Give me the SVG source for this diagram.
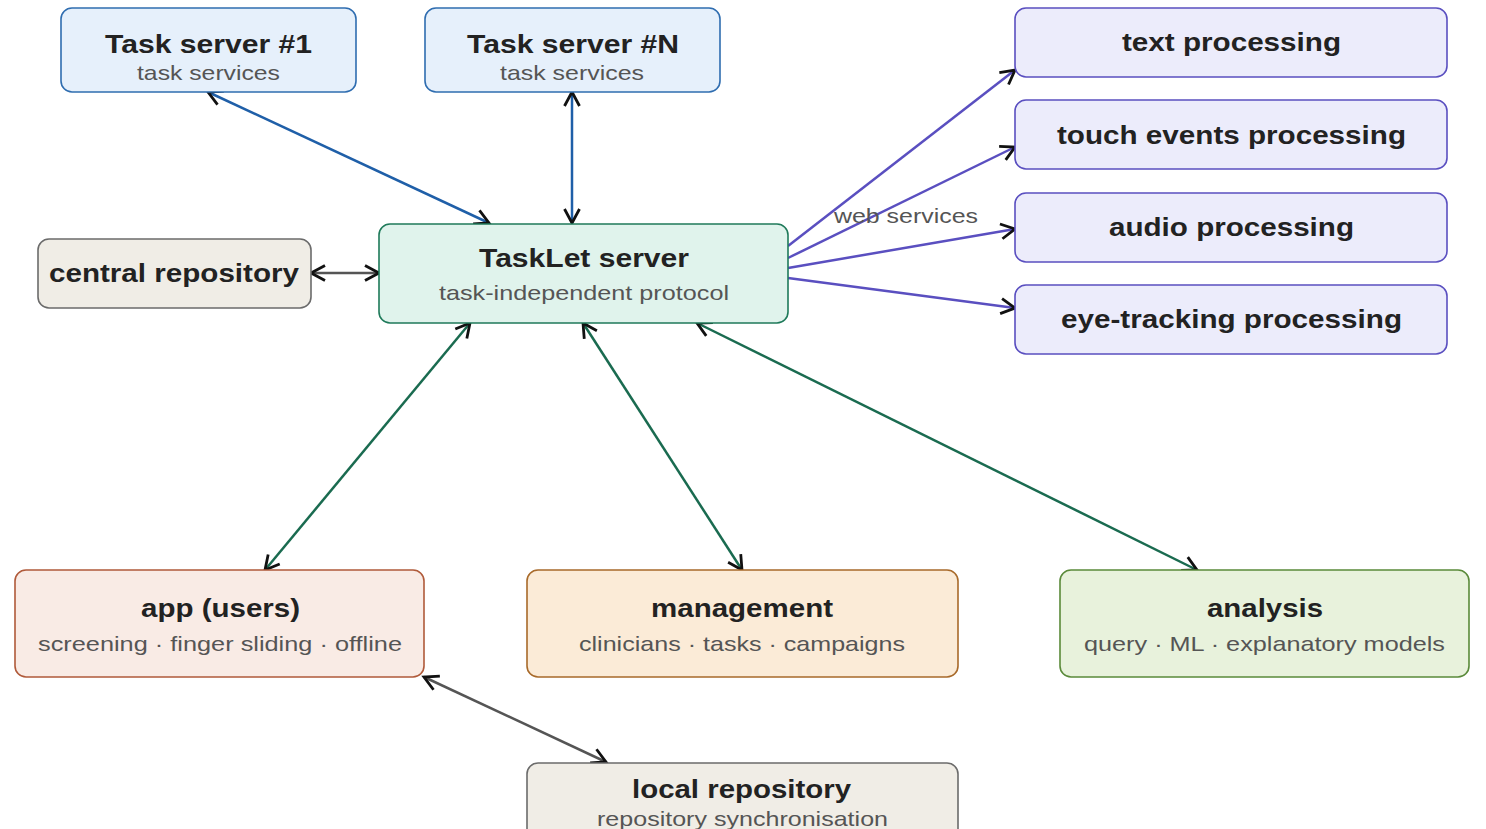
<svg xmlns="http://www.w3.org/2000/svg" width="1486" height="829" viewBox="0 0 1486 829">
<defs>
<marker id="ah" viewBox="0 0 20 20" markerWidth="20" markerHeight="20" refX="17" refY="10" orient="auto-start-reverse" markerUnits="userSpaceOnUse">
<path d="M3,2.5 L17,10 L3,17.5" fill="none" stroke="#111" stroke-width="2.8"/>
</marker>
<style>
text{font-family:"Liberation Sans",Arial,sans-serif;text-anchor:middle}
.t{font-size:25px;font-weight:bold;fill:#222}
.s{font-size:21px;fill:#555}
.box{stroke-width:1.6}
.c{fill:none;stroke-width:2.5}
.ts{fill:#e6f0fb;stroke:#2f6db0}
.tl{fill:#e0f3ec;stroke:#1f7a5a}
.rp{fill:#f0ede6;stroke:#6b6b6b}
.pr{fill:#ececfb;stroke:#5a4fc0}
.ap{fill:#f9ebe5;stroke:#b05a3a}
.mg{fill:#fbebd7;stroke:#a86a2a}
.an{fill:#e8f2dc;stroke:#5a8a3a}
</style>
</defs>
<rect width="1486" height="829" fill="#fff"/>
<g id="connectors">
<line class="c" x1="208" y1="92" x2="489" y2="223" stroke="#1f5fa8" marker-start="url(#ah)" marker-end="url(#ah)"/>
<line class="c" x1="572" y1="92" x2="572" y2="223" stroke="#1f5fa8" marker-start="url(#ah)" marker-end="url(#ah)"/>
<line class="c" x1="311" y1="273" x2="379" y2="273" stroke="#555" marker-start="url(#ah)" marker-end="url(#ah)"/>
<line class="c" x1="788" y1="246" x2="1015" y2="70" stroke="#5a4fc0" marker-end="url(#ah)"/>
<line class="c" x1="788" y1="258" x2="1015" y2="147" stroke="#5a4fc0" marker-end="url(#ah)"/>
<line class="c" x1="788" y1="268" x2="1015" y2="229" stroke="#5a4fc0" marker-end="url(#ah)"/>
<line class="c" x1="788" y1="278" x2="1015" y2="308" stroke="#5a4fc0" marker-end="url(#ah)"/>
<line class="c" x1="470" y1="323" x2="265" y2="570" stroke="#1a6b50" marker-start="url(#ah)" marker-end="url(#ah)"/>
<line class="c" x1="583" y1="323" x2="742" y2="570" stroke="#1a6b50" marker-start="url(#ah)" marker-end="url(#ah)"/>
<line class="c" x1="697" y1="323" x2="1197" y2="570" stroke="#1a6b50" marker-start="url(#ah)" marker-end="url(#ah)"/>
<line class="c" x1="424" y1="677" x2="606" y2="762" stroke="#555" marker-start="url(#ah)" marker-end="url(#ah)"/>
<text x="906" y="223" class="s" fill="#444" textLength="144" lengthAdjust="spacingAndGlyphs">web services</text>
</g>
<g id="task-server-1">
<rect class="box ts" x="61" y="8" width="295" height="84" rx="11"/>
<text x="208.5" y="53" class="t" textLength="207" lengthAdjust="spacingAndGlyphs">Task server #1</text>
<text x="208.5" y="80" class="s" textLength="143" lengthAdjust="spacingAndGlyphs">task services</text>
</g>
<g id="task-server-n">
<rect class="box ts" x="425" y="8" width="295" height="84" rx="11"/>
<text x="573" y="53" class="t" textLength="212" lengthAdjust="spacingAndGlyphs">Task server #N</text>
<text x="572" y="80" class="s" textLength="144" lengthAdjust="spacingAndGlyphs">task services</text>
</g>
<g id="central-repository">
<rect class="box rp" x="38" y="239" width="273" height="69" rx="11"/>
<text x="174" y="282" class="t" textLength="250" lengthAdjust="spacingAndGlyphs">central repository</text>
</g>
<g id="tasklet-server">
<rect class="box tl" x="379" y="224" width="409" height="99" rx="11"/>
<text x="584" y="267" class="t" textLength="210" lengthAdjust="spacingAndGlyphs">TaskLet server</text>
<text x="584" y="300" class="s" textLength="290" lengthAdjust="spacingAndGlyphs">task-independent protocol</text>
</g>
<g id="text-processing">
<rect class="box pr" x="1015" y="8" width="432" height="69" rx="11"/>
<text x="1231.5" y="51" class="t" textLength="219" lengthAdjust="spacingAndGlyphs">text processing</text>
</g>
<g id="touch-events-processing">
<rect class="box pr" x="1015" y="100" width="432" height="69" rx="11"/>
<text x="1231.5" y="144" class="t" textLength="349" lengthAdjust="spacingAndGlyphs">touch events processing</text>
</g>
<g id="audio-processing">
<rect class="box pr" x="1015" y="193" width="432" height="69" rx="11"/>
<text x="1231.5" y="236" class="t" textLength="245" lengthAdjust="spacingAndGlyphs">audio processing</text>
</g>
<g id="eye-tracking-processing">
<rect class="box pr" x="1015" y="285" width="432" height="69" rx="11"/>
<text x="1231.5" y="328" class="t" textLength="341" lengthAdjust="spacingAndGlyphs">eye-tracking processing</text>
</g>
<g id="app-users">
<rect class="box ap" x="15" y="570" width="409" height="107" rx="11"/>
<text x="220.5" y="617" class="t" textLength="159" lengthAdjust="spacingAndGlyphs">app (users)</text>
<text x="220" y="651" class="s" textLength="364" lengthAdjust="spacingAndGlyphs">screening · finger sliding · offline</text>
</g>
<g id="management">
<rect class="box mg" x="527" y="570" width="431" height="107" rx="11"/>
<text x="742" y="617" class="t" textLength="182" lengthAdjust="spacingAndGlyphs">management</text>
<text x="742" y="651" class="s" textLength="326" lengthAdjust="spacingAndGlyphs">clinicians · tasks · campaigns</text>
</g>
<g id="analysis">
<rect class="box an" x="1060" y="570" width="409" height="107" rx="11"/>
<text x="1265" y="617" class="t" textLength="116" lengthAdjust="spacingAndGlyphs">analysis</text>
<text x="1264.5" y="651" class="s" textLength="361" lengthAdjust="spacingAndGlyphs">query · ML · explanatory models</text>
</g>
<g id="local-repository">
<rect class="box rp" x="527" y="763" width="431" height="80" rx="11"/>
<text x="741.5" y="798" class="t" textLength="219" lengthAdjust="spacingAndGlyphs">local repository</text>
<text x="742.5" y="826" class="s" textLength="291" lengthAdjust="spacingAndGlyphs">repository synchronisation</text>
</g>
</svg>
